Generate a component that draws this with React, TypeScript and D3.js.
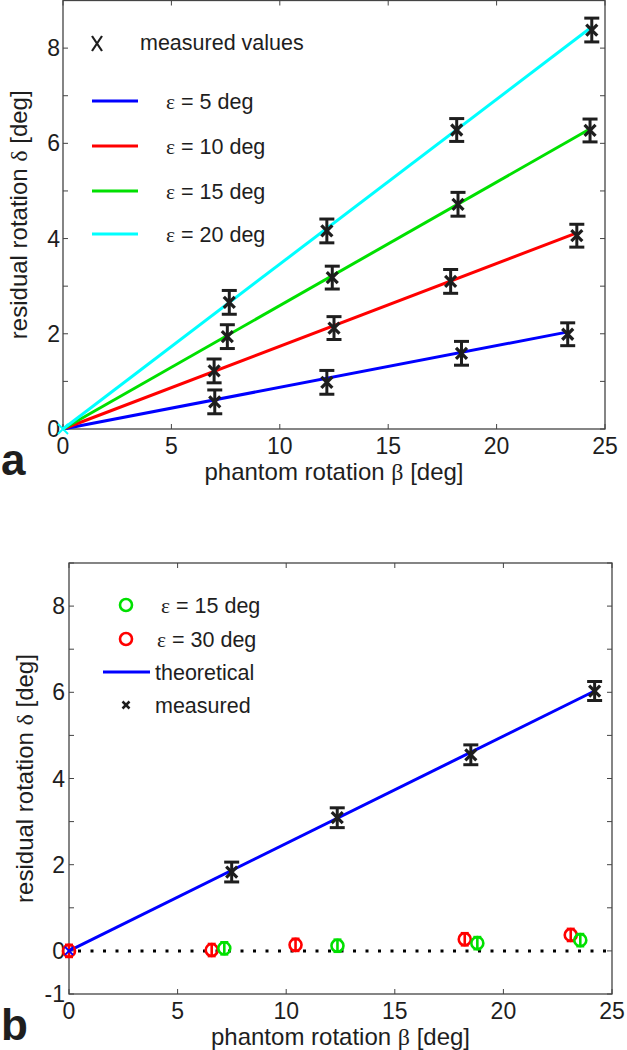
import React from "react";
import * as d3 from "d3";

// ---------- data ----------
const xTicks = [0, 5, 10, 15, 20, 25];
const yTicksA = [0, 1, 2, 3, 4, 5, 6, 7, 8, 9];
const yLabelsA = [0, 2, 4, 6, 8];
const yTicksB = [-1, 0, 1, 2, 3, 4, 5, 6, 7, 8, 9];
const yLabelsB = [-1, 0, 2, 4, 6, 8];

// panel a: measured values per epsilon
const epsA = ["5", "10", "15", "20"];
const colorsA = ["#0000ff", "#ff0000", "#00e000", "#00ffff"];
const measXA = [
  [7.0, 12.17, 18.38, 23.28],
  [6.97, 12.5, 17.88, 23.7],
  [7.58, 12.42, 18.22, 24.31],
  [7.67, 12.17, 18.16, 24.39],
];
const measYA = [
  [0.57, 0.98, 1.59, 1.99],
  [1.22, 2.12, 3.1, 4.06],
  [1.94, 3.18, 4.72, 6.27],
  [2.66, 4.16, 6.28, 8.38],
];
const errA = [
  [0.25, 0.25, 0.25, 0.24],
  [0.25, 0.24, 0.25, 0.24],
  [0.25, 0.24, 0.25, 0.24],
  [0.25, 0.25, 0.24, 0.25],
];
// theoretical lines: start and end points
const lineXA = [
  [0, 23.3],
  [0, 23.7],
  [0, 24.3],
  [0, 24.4],
];
const lineYA = [
  [0, 2.04],
  [0, 4.12],
  [0, 6.3],
  [0, 8.45],
];

// panel b
const measXB = [7.49, 12.35, 18.5, 24.2];
const measYB = [1.83, 3.09, 4.55, 6.03];
const errB = [0.23, 0.23, 0.23, 0.22];
const theoXB = [0, 24.2];
const theoYB = [0, 6.03];
const eps15X = [7.15, 12.36, 18.8, 23.54];
const eps15Y = [0.06, 0.12, 0.18, 0.25];
const eps30X = [0, 6.57, 10.43, 18.22, 23.1];
const eps30Y = [0, 0.02, 0.14, 0.27, 0.37];
const circErr = 0.14;

// ---------- layout ----------
const FONT = "'Liberation Sans', Arial, sans-serif";
const GREEK = "'Liberation Serif', 'Times New Roman', serif";
const FRAME = "#444";
const INK = "#1e1e1e";

const xA = d3.scaleLinear().domain([0, 25]).range([63, 605]);
const yA = d3.scaleLinear().domain([0, 9]).range([429, 0.5]);
const xB = d3.scaleLinear().domain([0, 25]).range([69, 612]);
const yB = d3.scaleLinear().domain([-1, 9]).range([994, 563]);

function XMark({ x, y, s = 5.5, color = INK, w = 3.2 }: any) {
  return (
    <g stroke={color} strokeWidth={w}>
      <line x1={x - s} y1={y - s} x2={x + s} y2={y + s} />
      <line x1={x - s} y1={y + s} x2={x + s} y2={y - s} />
    </g>
  );
}

function ErrX({ x, y, top, bot }: any) {
  const c = 7.5;
  return (
    <g stroke={INK} strokeWidth={3}>
      <line x1={x} y1={top} x2={x} y2={bot} />
      <line x1={x - c} y1={top} x2={x + c} y2={top} />
      <line x1={x - c} y1={bot} x2={x + c} y2={bot} />
      <XMark x={x} y={y} />
    </g>
  );
}

function Circ({ x, y, top, bot, color }: any) {
  const c = 4;
  return (
    <g stroke={color} strokeWidth={2.6} fill="none">
      <line x1={x} y1={top} x2={x} y2={bot} />
      <line x1={x - c} y1={top} x2={x + c} y2={top} />
      <line x1={x - c} y1={bot} x2={x + c} y2={bot} />
      <circle cx={x} cy={y} r={6} />
    </g>
  );
}

function Axes({ x, y, yTicks, yLabels, tickLabelDx }: any) {
  const [x0, x1] = x.range();
  const [y0, y1] = y.range();
  const tl = 5;
  return (
    <g>
      <rect x={x0} y={y1} width={x1 - x0} height={y0 - y1} fill="none" stroke={FRAME} strokeWidth={1.3} />
      {xTicks.map((t: number) => (
        <g key={"xt" + t} stroke={FRAME} strokeWidth={1}>
          <line x1={x(t)} x2={x(t)} y1={y0} y2={y0 - tl} />
          <line x1={x(t)} x2={x(t)} y1={y1} y2={y1 + tl} />
        </g>
      ))}
      {yTicks.map((t: number) => (
        <g key={"yt" + t} stroke={FRAME} strokeWidth={1}>
          <line x1={x0} x2={x0 + tl} y1={y(t)} y2={y(t)} />
          <line x1={x1} x2={x1 - tl} y1={y(t)} y2={y(t)} />
        </g>
      ))}
      {xTicks.map((t: number) => (
        <text key={"xl" + t} x={x(t)} y={y0 + 25} textAnchor="middle" fontSize={23} fontFamily={FONT} fill={INK}>
          {t}
        </text>
      ))}
      {yLabels.map((t: number) => (
        <text key={"yl" + t} x={x0 - tickLabelDx} y={y(t) + 8} textAnchor="end" fontSize={23} fontFamily={FONT} fill={INK}>
          {t}
        </text>
      ))}
    </g>
  );
}

function Titles({ x, y, letter, ylabX }: any) {
  const [x0, x1] = x.range();
  const [y0, y1] = y.range();
  const cx = (x0 + x1) / 2;
  const cy = (y0 + y1) / 2;
  return (
    <g fontFamily={FONT} fill={INK}>
      <text x={cx} y={y0 + 51} textAnchor="middle" fontSize={24}>
        phantom rotation <tspan fontFamily={GREEK}>β</tspan> [deg]
      </text>
      <text transform={`translate(${ylabX},${cy}) rotate(-90)`} textAnchor="middle" fontSize={24}>
        residual rotation <tspan fontFamily={GREEK}>δ</tspan> [deg]
      </text>
      <text x={1} y={y0 + 46} fontSize={44} fontWeight="bold">
        {letter}
      </text>
    </g>
  );
}

export default function App() {
  const line = d3.line<[number, number]>();
  return (
    <svg width={627} height={1050} style={{ position: "absolute", left: 0, top: 0, background: "#fff" }}>
      <rect width={627} height={1050} fill="#fff" />
      {/* ---------- panel a ---------- */}
      <Axes x={xA} y={yA} yTicks={yTicksA} yLabels={yLabelsA} tickLabelDx={3} />
      {lineXA.map((lx, i) => (
        <path
          key={"la" + i}
          d={line(lx.map((v, j) => [xA(v), yA(lineYA[i][j])]) as any) as string}
          stroke={colorsA[i]}
          strokeWidth={3}
          fill="none"
        />
      ))}
      <XMark x={xA(0)} y={yA(0)} s={5} color="#00ffff" w={2} />
      {measXA.map((xs, i) =>
        xs.map((v, j) => (
          <ErrX
            key={"ma" + i + j}
            x={xA(v)}
            y={yA(measYA[i][j])}
            top={yA(measYA[i][j] + errA[i][j])}
            bot={yA(measYA[i][j] - errA[i][j])}
          />
        ))
      )}
      {/* legend a */}
      <g fontFamily={FONT} fontSize={21.5} fill={INK}>
        <g stroke={INK} strokeWidth={2.2}>
          <line x1={92} y1={36} x2={102} y2={51} />
          <line x1={92} y1={51} x2={102} y2={36} />
        </g>
        <text x={140} y={50}>measured values</text>
        {epsA.map((e, i) => {
          const ly = [101, 146, 191, 234][i];
          return (
            <g key={"lg" + i}>
              <line x1={92} x2={138} y1={ly} y2={ly} stroke={colorsA[i]} strokeWidth={3} />
              <text x={166} y={ly + 8}>
                <tspan fontFamily={GREEK}>ε</tspan> = {e} deg
              </text>
            </g>
          );
        })}
      </g>
      <Titles x={xA} y={yA} letter="a" ylabX={27} />

      {/* ---------- panel b ---------- */}
      <Axes x={xB} y={yB} yTicks={yTicksB} yLabels={yLabelsB} tickLabelDx={4} />
      <line
        x1={xB(0)}
        x2={xB(25)}
        y1={yB(0)}
        y2={yB(0)}
        stroke="#000"
        strokeWidth={3}
        strokeDasharray="3 9.5"
        strokeDashoffset={-9}
      />
      <path
        d={line(theoXB.map((v, j) => [xB(v), yB(theoYB[j])]) as any) as string}
        stroke="#0000ff"
        strokeWidth={3}
        fill="none"
      />
      {eps30X.map((v, j) => (
        <Circ
          key={"r" + j}
          x={xB(v)}
          y={yB(eps30Y[j])}
          top={yB(eps30Y[j] + circErr)}
          bot={yB(eps30Y[j] - circErr)}
          color="#ff0000"
        />
      ))}
      {eps15X.map((v, j) => (
        <Circ
          key={"g" + j}
          x={xB(v)}
          y={yB(eps15Y[j])}
          top={yB(eps15Y[j] + circErr)}
          bot={yB(eps15Y[j] - circErr)}
          color="#00e000"
        />
      ))}
      <XMark x={xB(0)} y={yB(0)} s={4} color="#0000ff" w={2} />
      {measXB.map((v, j) => (
        <ErrX
          key={"mb" + j}
          x={xB(v)}
          y={yB(measYB[j])}
          top={yB(measYB[j] + errB[j])}
          bot={yB(measYB[j] - errB[j])}
        />
      ))}
      {/* legend b */}
      <g fontFamily={FONT} fontSize={21.5} fill={INK}>
        <circle cx={126} cy={605} r={6} stroke="#00e000" strokeWidth={2.6} fill="none" />
        <text x={161} y={613}>
          <tspan fontFamily={GREEK}>ε</tspan> = 15 deg
        </text>
        <circle cx={126} cy={639} r={6} stroke="#ff0000" strokeWidth={2.6} fill="none" />
        <text x={157} y={647}>
          <tspan fontFamily={GREEK}>ε</tspan> = 30 deg
        </text>
        <line x1={103} x2={150} y1={672} y2={672} stroke="#0000ff" strokeWidth={3} />
        <text x={155} y={680}>theoretical</text>
        <XMark x={126} y={705} s={3.5} w={2.5} />
        <text x={155} y={713}>measured</text>
      </g>
      <Titles x={xB} y={yB} letter="b" ylabX={33} />
    </svg>
  );
}
